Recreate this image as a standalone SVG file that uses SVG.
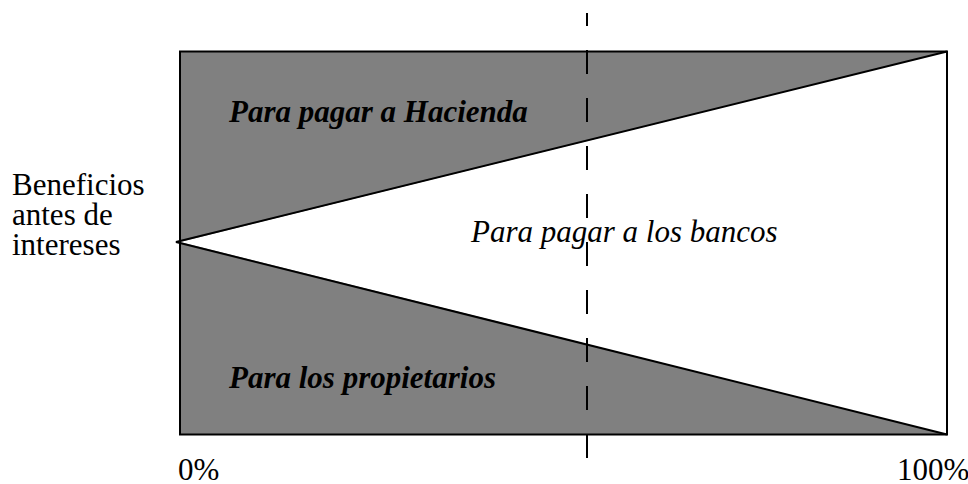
<svg xmlns="http://www.w3.org/2000/svg" width="968" height="484" viewBox="0 0 968 484">
<style>
.t{font-family:"Liberation Serif","Times New Roman",serif;font-size:31px;fill:#000}
.bi{font-style:italic;font-weight:bold}
.i{font-style:italic}
.ln{stroke:#000;stroke-width:2;fill:none}
.gr{fill:#808080;stroke:none}
</style>
<rect x="0" y="0" width="968" height="484" fill="#fff"/>
<g id="region-hacienda">
<polygon class="gr" points="180,51.5 947,51.5 180,242"/>
<text class="t bi" x="229" y="122">Para pagar a Hacienda</text>
</g>
<g id="region-propietarios">
<polygon class="gr" points="180,242 947,434.5 180,434.5"/>
<text class="t bi" x="229" y="388">Para los propietarios</text>
</g>
<g id="region-bancos">
<text class="t i" x="471" y="242">Para pagar a los bancos</text>
</g>
<g id="connectors">
<rect class="ln" x="180" y="51.5" width="767" height="383"/>
<polyline class="ln" points="947,51.5 176,242 947,434.5"/>
<line class="ln" x1="587" y1="13" x2="587" y2="459" stroke-dasharray="24 24" stroke-dashoffset="11"/>
</g>
<g id="labels">
<text class="t" x="12" y="195">Beneficios</text>
<text class="t" x="12" y="225">antes de</text>
<text class="t" x="12" y="255">intereses</text>
<text class="t" x="178" y="480">0%</text>
<text class="t" x="897" y="480">100%</text>
</g>
</svg>
